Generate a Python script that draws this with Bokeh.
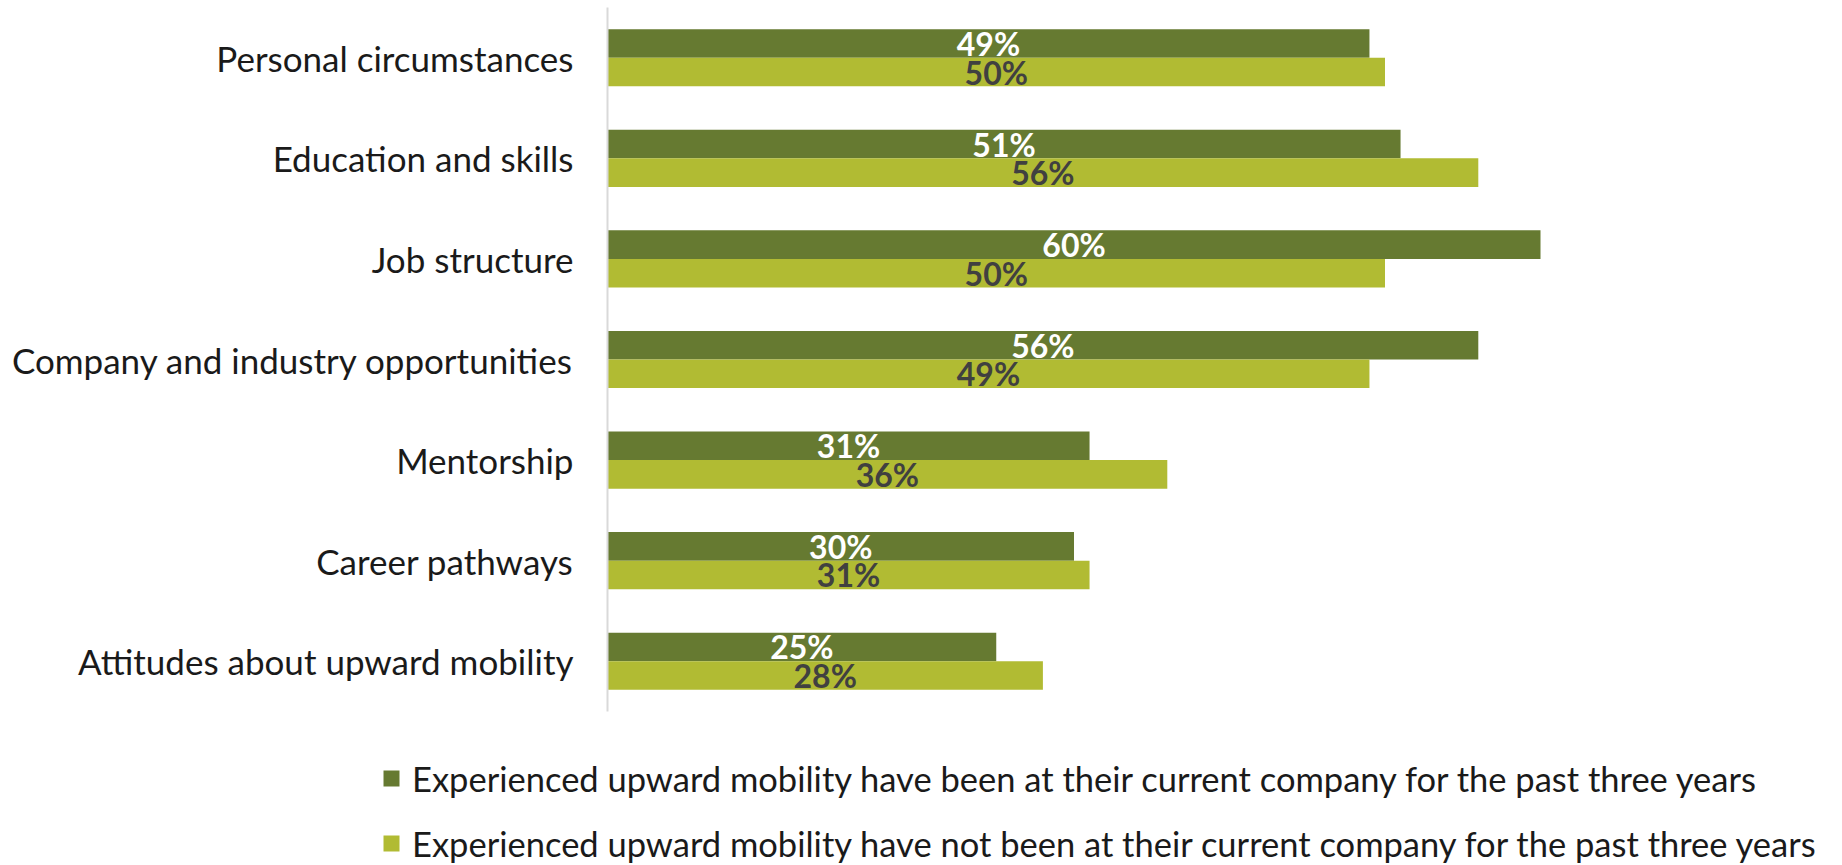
from bokeh.plotting import figure
from bokeh.layouts import column
from bokeh.models import ColumnDataSource, Range1d, FactorRange, Legend, LegendItem
from bokeh.transform import dodge
from bokeh.core.properties import value
from bokeh.embed import file_html
from bokeh.resources import INLINE

categories = ["Personal circumstances", "Education and skills", "Job structure",
              "Company and industry opportunities", "Mentorship", "Career pathways",
              "Attitudes about upward mobility"]
stayed = [49, 51, 60, 56, 31, 30, 25]
moved = [50, 56, 50, 49, 36, 31, 28]
series_names = ["Experienced upward mobility have been at their current company for the past three years",
                "Experienced upward mobility have not been at their current company for the past three years"]

DARK = "#667a31"
LIGHT = "#b1bb33"
FONT = "Lato"
W = 1834

src = ColumnDataSource(dict(
    cat=categories,
    stayed=stayed,
    moved=moved,
    stayed_mid=[v / 2 for v in stayed],
    moved_mid=[v / 2 for v in moved],
    stayed_lbl=[f"{v}%" for v in stayed],
    moved_lbl=[f"{v}%" for v in moved],
))

p = figure(width=W, height=716, output_backend="svg", toolbar_location=None,
           y_range=FactorRange(*categories[::-1]), x_range=Range1d(0, (W - 607) / 15.55),
           min_border_left=607, min_border_right=0, min_border_top=7, min_border_bottom=5,
           frame_align=False)
p.outline_line_color = None
p.xgrid.visible = False
p.ygrid.visible = False
p.xaxis.visible = False

bh = 0.284
r1 = p.hbar(y=dodge("cat", bh / 2, range=p.y_range), right="stayed", left=0, height=bh,
            source=src, fill_color=DARK, line_color=None)
r2 = p.hbar(y=dodge("cat", -bh / 2, range=p.y_range), right="moved", left=0, height=bh,
            source=src, fill_color=LIGHT, line_color=None)

p.text(x="stayed_mid", y=dodge("cat", bh / 2, range=p.y_range), text="stayed_lbl", source=src,
       text_align="center", text_baseline="middle", text_color="white",
       text_font=value(FONT), text_font_size="32px", text_font_style="bold")
p.text(x="moved_mid", y=dodge("cat", -bh / 2, range=p.y_range), text="moved_lbl", source=src,
       text_align="center", text_baseline="middle", text_color="#404040",
       text_font=value(FONT), text_font_size="32px", text_font_style="bold")

ax = p.yaxis[0]
ax.axis_line_color = "#d9d9d9"
ax.axis_line_width = 2
ax.major_tick_line_color = None
ax.minor_tick_line_color = None
ax.major_tick_out = 0
ax.major_label_standoff = 34
ax.major_label_text_font = FONT
ax.major_label_text_font_size = "35px"
ax.major_label_text_color = "#1a1a1a"

# legend panel below the chart (its swatch renderers are hidden; they only give the legend its colours)
lg = figure(width=W, height=149, output_backend="svg", toolbar_location=None,
            x_axis_type=None, y_axis_type=None, x_range=Range1d(0, 1), y_range=Range1d(0, 1),
            min_border_left=0, min_border_right=0, min_border_top=0, min_border_bottom=0,
            frame_align=False)
lg.outline_line_color = None
lg.xgrid.visible = False
lg.ygrid.visible = False
k1 = lg.hbar(y="stayed", right="stayed", left=0, height=1, source=src, fill_color=DARK, line_color=None)
k2 = lg.hbar(y="moved", right="moved", left=0, height=1, source=src, fill_color=LIGHT, line_color=None)
k1.visible = False
k2.visible = False

legend = Legend(items=[LegendItem(label=series_names[0], renderers=[k1]),
                       LegendItem(label=series_names[1], renderers=[k2])],
                location=(381, 1), orientation="vertical", click_policy="none",
                glyph_width=20, glyph_height=20, label_standoff=11,
                label_height=42, spacing=23, padding=0, margin=0,
                border_line_color=None, background_fill_alpha=0,
                label_text_font=FONT, label_text_font_size="34.5px", label_text_color="#1a1a1a")
lg.add_layout(legend, "center")

layout = column(p, lg, spacing=0)
open("out.html", "w").write(file_html(layout, INLINE))
